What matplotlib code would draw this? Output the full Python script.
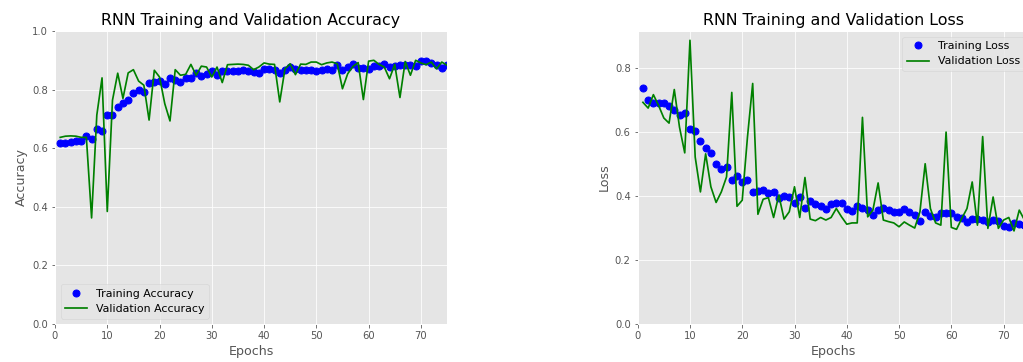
import numpy as np
import matplotlib
matplotlib.use('Agg')
import matplotlib.pyplot as plt

# values, one per epoch
train_acc = [0.619, 0.619, 0.620, 0.623, 0.625, 0.641, 0.633, 0.664, 0.658, 0.714,
             0.712, 0.739, 0.755, 0.763, 0.789, 0.798, 0.793, 0.823, 0.825, 0.831,
             0.818, 0.838, 0.834, 0.826, 0.840, 0.841, 0.858, 0.848, 0.854, 0.863,
             0.851, 0.863, 0.863, 0.862, 0.862, 0.868, 0.862, 0.859, 0.857, 0.870,
             0.871, 0.866, 0.857, 0.866, 0.877, 0.870, 0.866, 0.866, 0.868, 0.863,
             0.868, 0.870, 0.868, 0.885, 0.866, 0.876, 0.886, 0.873, 0.873, 0.871,
             0.879, 0.880, 0.888, 0.877, 0.880, 0.883, 0.885, 0.885, 0.879, 0.896,
             0.897, 0.891, 0.885, 0.875, 0.883]
val_acc = [0.637, 0.641, 0.642, 0.641, 0.637, 0.637, 0.362, 0.713, 0.840, 0.384,
           0.764, 0.856, 0.770, 0.857, 0.868, 0.829, 0.815, 0.696, 0.866, 0.843,
           0.752, 0.693, 0.868, 0.849, 0.852, 0.886, 0.849, 0.880, 0.877, 0.843,
           0.877, 0.824, 0.885, 0.886, 0.887, 0.886, 0.883, 0.868, 0.877, 0.891,
           0.887, 0.886, 0.758, 0.871, 0.888, 0.851, 0.887, 0.886, 0.894, 0.894,
           0.885, 0.891, 0.894, 0.888, 0.803, 0.854, 0.879, 0.892, 0.766, 0.897,
           0.900, 0.886, 0.877, 0.837, 0.886, 0.773, 0.896, 0.849, 0.900, 0.891,
           0.885, 0.894, 0.871, 0.894, 0.883]
train_loss = [0.739, 0.701, 0.691, 0.691, 0.691, 0.683, 0.670, 0.652, 0.660, 0.610,
              0.603, 0.573, 0.551, 0.535, 0.499, 0.486, 0.491, 0.451, 0.462, 0.445,
              0.449, 0.414, 0.417, 0.418, 0.410, 0.412, 0.395, 0.401, 0.396, 0.379,
              0.397, 0.363, 0.384, 0.374, 0.370, 0.360, 0.374, 0.379, 0.377, 0.360,
              0.353, 0.369, 0.364, 0.356, 0.341, 0.356, 0.363, 0.356, 0.351, 0.351,
              0.359, 0.350, 0.340, 0.321, 0.351, 0.338, 0.335, 0.346, 0.346, 0.348,
              0.335, 0.330, 0.320, 0.328, 0.328, 0.325, 0.320, 0.325, 0.322, 0.307,
              0.302, 0.316, 0.312, 0.310, 0.305]
val_loss = [0.693, 0.675, 0.717, 0.683, 0.644, 0.628, 0.733, 0.615, 0.535, 0.887,
            0.522, 0.413, 0.532, 0.429, 0.380, 0.413, 0.460, 0.724, 0.368, 0.387,
            0.584, 0.752, 0.343, 0.390, 0.395, 0.333, 0.403, 0.328, 0.351, 0.429,
            0.333, 0.458, 0.328, 0.323, 0.333, 0.325, 0.333, 0.361, 0.335, 0.312,
            0.316, 0.316, 0.646, 0.335, 0.356, 0.441, 0.325, 0.320, 0.316, 0.304,
            0.319, 0.309, 0.300, 0.351, 0.501, 0.361, 0.316, 0.309, 0.600, 0.302,
            0.296, 0.330, 0.361, 0.444, 0.309, 0.586, 0.299, 0.397, 0.299, 0.325,
            0.333, 0.291, 0.356, 0.325, 0.330]
epochs = np.arange(1, len(train_acc) + 1)

plt.style.use('ggplot')
plt.rcParams['xtick.labelsize'] = 10
plt.rcParams['ytick.labelsize'] = 10
plt.rcParams['axes.labelsize'] = 12.6
plt.rcParams['axes.titlesize'] = 15.9
plt.rcParams['legend.fontsize'] = 11

dpi = 72
fig = plt.figure(figsize=(1023 / dpi, 362 / dpi), dpi=dpi)

# left: accuracy
ax1 = fig.add_axes([55 / 1023, 38 / 362, 392 / 1023, 293 / 362])
ax1.plot(epochs, train_acc, 'bo', markersize=7, label='Training Accuracy')
ax1.plot(epochs, val_acc, 'g', linewidth=1.7, label='Validation Accuracy')
ax1.set_title('RNN Training and Validation Accuracy')
ax1.set_xlabel('Epochs')
ax1.set_ylabel('Accuracy')
ax1.set_xlim(0, 75)
ax1.set_ylim(0, 1.0)
ax1.legend(loc='lower left')

# right: loss (runs past the right edge like the original)
ax2 = fig.add_axes([637.7 / 1023, 38 / 362, 392 / 1023, 293 / 362])
ax2.plot(epochs, train_loss, 'bo', markersize=7, label='Training Loss')
ax2.plot(epochs, val_loss, 'g', linewidth=1.7, label='Validation Loss')
ax2.set_title('RNN Training and Validation Loss')
ax2.set_xlabel('Epochs')
ax2.set_ylabel('Loss')
ax2.set_xlim(0, 75)
ax2.set_ylim(0, 0.916)
ax2.legend(loc='upper right')

fig.savefig('out.png', dpi=dpi)
